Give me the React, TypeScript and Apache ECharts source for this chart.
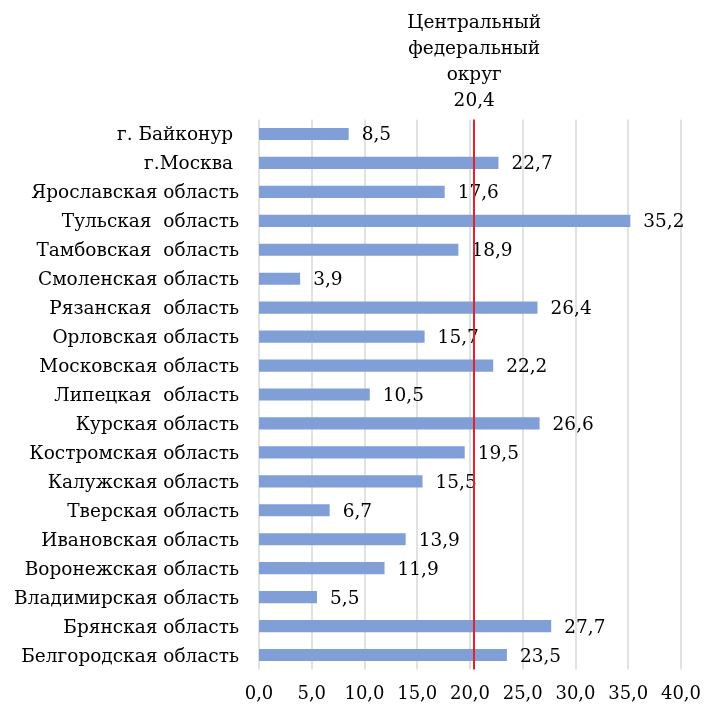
import React, { useEffect, useRef } from "react";
import * as echarts from "echarts";

const categories = [
  "Белгородская область",
  "Брянская область",
  "Владимирская область",
  "Воронежская область",
  "Ивановская область",
  "Тверская область",
  "Калужская область",
  "Костромская область",
  "Курская область",
  "Липецкая  область",
  "Московская область",
  "Орловская область",
  "Рязанская  область",
  "Смоленская область",
  "Тамбовская  область",
  "Тульская  область",
  "Ярославская область",
  "г.Москва ",
  "г. Байконур ",
];
const values = [23.5, 27.7, 5.5, 11.9, 13.9, 6.7, 15.5, 19.5, 26.6, 10.5, 22.2, 15.7, 26.4, 3.9, 18.9, 35.2, 17.6, 22.7, 8.5];
const districtName = "Центральный\nфедеральный\nокруг";
const districtValue = 20.4;

const fmt = (v: number) => v.toFixed(1).replace(".", ",");
const FONT = "DejaVu Serif";
const FS = 18.5;

export default function App() {
  const ref = useRef<HTMLDivElement>(null);
  useEffect(() => {
    if (!ref.current) return;
    const chart = echarts.init(ref.current, undefined, { renderer: "svg" });
    chart.setOption({
      animation: false,
      textStyle: { fontFamily: FONT },
      grid: { left: 259, right: 21, top: 119.5, bottom: 39.5 },
      xAxis: {
        type: "value",
        min: 0,
        max: 40,
        interval: 5,
        axisLine: { show: false },
        axisTick: { show: false },
        splitLine: { show: true, lineStyle: { color: "#d9d9d9", width: 1.5 } },
        axisLabel: {
          formatter: (v: number) => fmt(v),
          fontFamily: FONT,
          fontSize: 18,
          color: "#000",
          margin: 14,
        },
      },
      yAxis: {
        type: "category",
        data: categories,
        axisLine: { show: false },
        axisTick: { show: false },
        axisLabel: { fontFamily: FONT, fontSize: FS, color: "#000", margin: 20 },
      },
      series: [
        {
          type: "bar",
          data: values,
          barWidth: "42%",
          itemStyle: { color: "#7f9fd6" },
          label: {
            show: true,
            position: "right",
            distance: 13,
            formatter: (p: any) => fmt(p.value),
            fontFamily: FONT,
            fontSize: FS,
            color: "#000",
          },
          markLine: {
            silent: true,
            symbol: "none",
            lineStyle: { color: "#e8202a", width: 2, type: "solid" },
            label: {
              show: true,
              position: "end",
              formatter: () => districtName + "\n" + fmt(districtValue),
              fontFamily: FONT,
              fontSize: FS,
              lineHeight: 26,
              color: "#000",
              align: "center",
              distance: 7,
            },
            data: [{ xAxis: districtValue }],
          },
        },
      ],
    });
    return () => chart.dispose();
  }, []);
  return <div ref={ref} style={{ width: 704, height: 709, position: "fixed", left: 0, top: 0 }} />;
}
